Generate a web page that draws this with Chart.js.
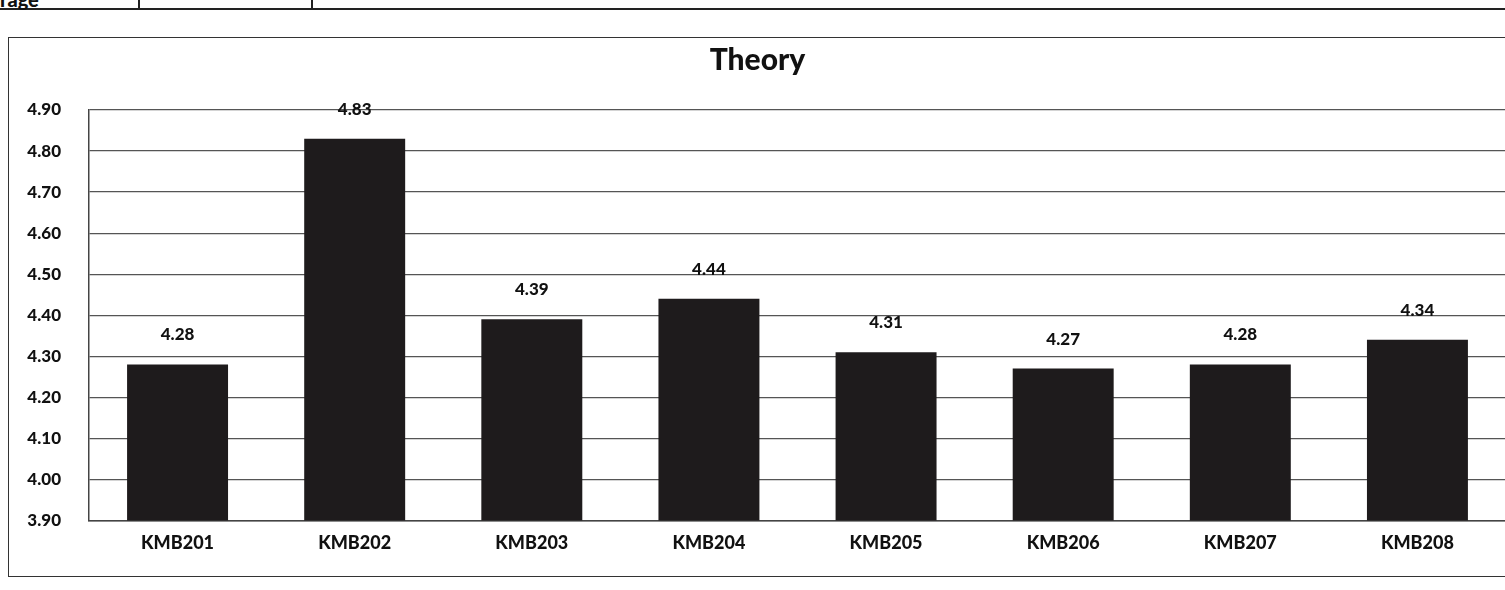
<!DOCTYPE html>
<html>
<head>
<meta charset="utf-8">
<script src="https://cdn.jsdelivr.net/npm/chart.js@4.4.0/dist/chart.umd.min.js"></script>
<style>
  html, body { margin: 0; padding: 0; background: #fff; width: 1505px; height: 590px; overflow: hidden; position: relative; }
  #tableTop { position: absolute; left: 0; top: 0; width: 1505px; height: 8px; border-bottom: 2px solid #222; }
  #tableTop .cell { position: absolute; top: 0; height: 8px; border-left: 2px solid #222; }
  #rage { position: absolute; left: 0; top: -13px; font: 900 20px Lato, sans-serif; color: #111; }
  #box { position: absolute; left: 8px; top: 37px; width: 1520px; height: 540px; border: 1.5px solid #333; box-sizing: border-box; }
  #wrap { position: absolute; left: 0; top: 0; width: 1497px; height: 538px; }
</style>
</head>
<body>
<div id="tableTop"><div class="cell" style="left:138px"></div><div class="cell" style="left:311px"></div></div>
<div id="rage">rage</div>
<div id="box"><div id="wrap"><canvas id="theoryChart"></canvas></div></div>
<script>
// Theory scores per course
const courses = ["KMB201", "KMB202", "KMB203", "KMB204", "KMB205", "KMB206", "KMB207", "KMB208"];
const scores = [4.28, 4.83, 4.39, 4.44, 4.31, 4.27, 4.28, 4.34];
const yTicks = [3.9, 4.0, 4.1, 4.2, 4.3, 4.4, 4.5, 4.6, 4.7, 4.8, 4.9];

// value labels above each bar
const barLabels = {
  id: "barLabels",
  afterDatasetsDraw(chart) {
    const ctx = chart.ctx;
    const meta = chart.getDatasetMeta(0);
    ctx.save();
    ctx.font = "900 17px Lato, sans-serif";
    ctx.fillStyle = "#111";
    ctx.textAlign = "center";
    ctx.textBaseline = "bottom";
    meta.data.forEach((bar, i) => {
      ctx.fillText(scores[i].toFixed(2), bar.x, bar.y - 21);
    });
    ctx.restore();
  },
};

const ctx = document.getElementById("theoryChart").getContext("2d");
const theoryChart = new Chart(ctx, {
  type: "bar",
  data: {
    labels: courses,
    datasets: [
      {
        label: "Theory",
        data: scores,
        backgroundColor: "#1e1b1c",
        borderWidth: 0,
        categoryPercentage: 1,
        barPercentage: 0.57,
      },
    ],
  },
  options: {
    responsive: true,
    maintainAspectRatio: false,
    animation: false,
    layout: { padding: { left: 0, right: 0, top: 0, bottom: 10 } },
    plugins: {
      legend: { display: false },
      tooltip: { enabled: false },
      title: {
        display: true,
        text: "Theory",
        color: "#111",
        font: { family: "Lato", size: 30, weight: "900" },
        padding: { top: 4, bottom: 32 },
      },
    },
    scales: {
      x: {
        grid: { display: false, drawTicks: false },
        border: { display: true, color: "#444", width: 1.5 },
        ticks: {
          color: "#111",
          padding: 12,
          font: { family: "Lato", size: 18, weight: "900" },
        },
      },
      y: {
        min: 3.9,
        max: 4.9,
        afterFit: (scale) => { scale.width = 80; },
        afterBuildTicks: (scale) => { scale.ticks = yTicks.map((v) => ({ value: v })); },
        grid: { color: "#555", lineWidth: 1.2, drawTicks: false },
        border: { display: true, color: "#444", width: 1.5 },
        ticks: {
          color: "#111",
          padding: 28,
          font: { family: "Lato", size: 17, weight: "900" },
          callback: (v) => Number(v).toFixed(2),
        },
      },
    },
  },
  plugins: [barLabels],
});
</script>
</body>
</html>
